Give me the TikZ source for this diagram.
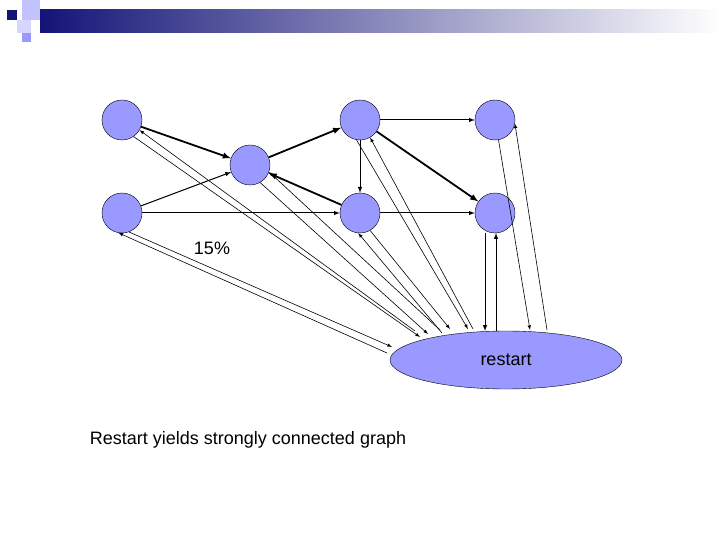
\documentclass[tikz,border=0pt]{standalone}
\usepackage{fontspec}
\setmainfont{Liberation Sans}
\usetikzlibrary{shapes.geometric, arrows}
\definecolor{nodeblue}{RGB}{153,153,255}
\definecolor{bardark}{RGB}{20,20,120}
\tikzset{
  page/.style={x=1pt, y=-1pt},
  state/.style={draw, circle, fill=nodeblue, minimum size=40pt, inner sep=0pt},
  link/.style={->, >=latex, line width=1pt},
  heavy/.style={->, >=latex, line width=1.8pt},
  jump/.style={->, >=latex, line width=0.6pt}
}
\begin{document}
\begin{tikzpicture}[page, font=\fontsize{18}{21}\selectfont]
        \useasboundingbox (0,0) rectangle (720,540);
        % title bar
        \shade[left color=bardark, right color=white] (40,10) rectangle (720,33);
        \fill[bardark] (7,10) rectangle (17,20);
        \fill[nodeblue!60] (22,0) rectangle (40,20);
        \fill[nodeblue!40] (17,20) rectangle (31,33);
        \fill[nodeblue] (22,33) rectangle (31,42);

        \node[state] (a) at (122,120) {};
        \node[state] (b) at (122,213) {};
        \node[state] (c) at (250,165) {};
        \node[state] (d) at (360,120) {};
        \node[state] (e) at (360,213) {};
        \node[state] (f) at (495,120) {};
        \node[state] (g) at (495,213) {};
        \node[draw, ellipse, fill=nodeblue, minimum width=232pt, minimum height=58pt] (restart) at (506,360) {restart};
        \node (pct) at (212,248) {15\%};
        \node (caption) at (248,440) {Restart yields strongly connected graph};

        \draw[heavy] (a) -- (c);
        \draw[link] (b) -- (c);
        \draw[heavy] (c) -- (d);
        \draw[heavy] (e) -- (c);
        \draw[heavy] (d) -- (g);
        \draw[link] (d) -- (f);
        \draw[link] (d) -- (e);
        \draw[link] (b) -- (e);
        \draw[link] (e) -- (g);

        % jumps to and from restart
        \coordinate (ra1) at (420,337); \coordinate (ra2) at (415,331);
        \coordinate (rb1) at (392,347); \coordinate (rb2) at (387,353);
        \coordinate (rc1) at (428,334); \coordinate (rc2) at (440,330);
        \coordinate (rd1) at (468,329); \coordinate (rd2) at (473,329);
        \coordinate (re1) at (450,329); \coordinate (re2) at (442,333);
        \coordinate (rf1) at (530,330); \coordinate (rf2) at (547,330);
        \coordinate (rg1) at (485,331); \coordinate (rg2) at (496,331);
        \coordinate (g1) at (485,233); \coordinate (g2) at (496,233);
        \draw[jump] (a.-55) -- (ra1);
        \draw[jump] (ra2) -- (a.-30);
        \draw[jump] (b.-70) -- (rb1);
        \draw[jump] (rb2) -- (b.-100);
        \draw[jump] (c.-60) -- (rc1);
        \draw[jump] (rc2) -- (c.-20);
        \draw[jump] (d.-100) -- (rd1);
        \draw[jump] (rd2) -- (d.-60);
        \draw[jump] (e.-60) -- (re1);
        \draw[jump] (re2) -- (e.-95);
        \draw[jump] (f.-80) -- (rf1);
        \draw[jump] (rf2) -- (f.-10);
        \draw[link] (g1) -- (rg1);
        \draw[link] (rg2) -- (g2);
\end{tikzpicture}
\end{document}
